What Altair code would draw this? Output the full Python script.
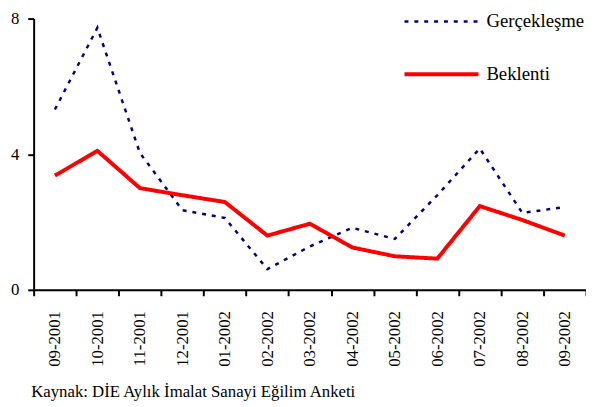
import altair as alt
import pandas as pd

months = ["09-2001", "10-2001", "11-2001", "12-2001", "01-2002", "02-2002", "03-2002",
          "04-2002", "05-2002", "06-2002", "07-2002", "08-2002", "09-2002"]
gerceklesme = [5.32, 7.73, 4.04, 2.35, 2.12, 0.61, 1.28, 1.83, 1.50, 2.79, 4.17, 2.27, 2.44]
beklenti = [3.37, 4.10, 3.00, 2.79, 2.59, 1.60, 1.95, 1.25, 0.99, 0.92, 2.47, 2.06, 1.60]
series_names = ["Gerçekleşme", "Beklenti"]
caption = "Kaynak: DİE Aylık İmalat Sanayi Eğilim Anketi"

rows = []
for name, vals in zip(series_names, [gerceklesme, beklenti]):
    for m, v in zip(months, vals):
        rows.append({"ay": m, "deger": v, "seri": name})
df = pd.DataFrame(rows)

FONT = "Times New Roman, Liberation Serif, serif"

chart = alt.Chart(df).mark_line().encode(
    x=alt.X("ay:N", sort=months, bandPosition=0.5,
            scale=alt.Scale(type="band", paddingInner=0, paddingOuter=0),
            axis=alt.Axis(title=None, labelAngle=-90, tickBand="extent",
                          labelFont=FONT, labelFontSize=17, labelColor="black",
                          labelPadding=15, tickSize=6, tickWidth=2, tickColor="black",
                          domainColor="black", domainWidth=2, grid=False)),
    y=alt.Y("deger:Q", scale=alt.Scale(domain=[0, 8], nice=False),
            axis=alt.Axis(title=None, values=[0, 4, 8], labelFont=FONT, labelFontSize=17,
                          labelColor="black", labelPadding=9, tickSize=6, tickWidth=2,
                          tickColor="black", domainColor="black", domainWidth=2, grid=False)),
    color=alt.Color("seri:N", sort=series_names,
                    scale=alt.Scale(domain=series_names, range=["#000080", "#FF0000"]),
                    legend=alt.Legend(title=None, orient="none", legendX=374, legendY=-36,
                                      symbolType="stroke", symbolSize=5625,
                                      labelFont=FONT, labelFontSize=19, labelColor="black",
                                      rowPadding=4, padding=0, labelOffset=6)),
    strokeDash=alt.StrokeDash("seri:N", sort=series_names,
                              scale=alt.Scale(domain=series_names, range=[[4, 6], [1, 0]]),
                              legend=None),
    strokeWidth=alt.StrokeWidth("seri:N", sort=series_names,
                                scale=alt.Scale(domain=series_names, range=[2.5, 4]),
                                legend=None),
).properties(
    width=560, height=275,
    autosize=alt.AutoSizeParams(type="none"),
    padding={"left": 26, "top": 8, "right": 0, "bottom": 112},
    title=alt.TitleParams(caption, orient="bottom", anchor="start", font=FONT,
                          fontSize=17, fontWeight="normal", color="black", offset=18, dx=21),
).configure(font=FONT).configure_legend(labelFont=FONT).configure_view(stroke=None)

chart.save("out.html", embed_options={"renderer": "svg", "actions": False})
